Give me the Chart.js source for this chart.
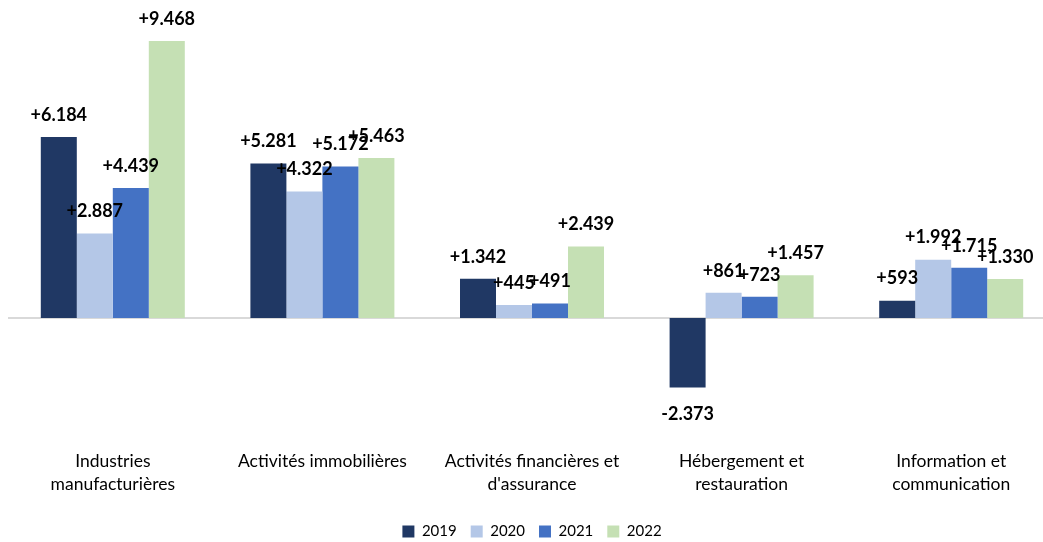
<!DOCTYPE html>
<html>
<head>
<meta charset="utf-8">
<script src="https://cdn.jsdelivr.net/npm/chart.js@4.4.1/dist/chart.umd.min.js"></script>
<style>
  html, body { margin: 0; padding: 0; background: #fff; overflow: hidden; }
  #wrap { width: 1056px; height: 542px; }
</style>
</head>
<body>
<div id="wrap"><canvas id="c"></canvas></div>
<script>
/* Variation par secteur, 2019-2022 */
const categories = [
  ["Industries", "manufacturières"],
  ["Activités immobilières"],
  ["Activités financières et", "d'assurance"],
  ["Hébergement et", "restauration"],
  ["Information et", "communication"]
];
const years = ["2019", "2020", "2021", "2022"];
const v2019 = [6184, 5281, 1342, -2373, 593];
const v2020 = [2887, 4322, 445, 861, 1992];
const v2021 = [4439, 5172, 491, 723, 1715];
const v2022 = [9468, 5463, 2439, 1457, 1330];
const colors = ["#203864", "#B4C7E7", "#4472C4", "#C5E0B4"];

const FONT = "Lato, 'Open Sans', sans-serif";

function fmt(v) {
  const s = Math.abs(v).toString().replace(/\B(?=(\d{3})+(?!\d))/g, ".");
  return (v < 0 ? "-" : "+") + s;
}

// zero line across the plot
const zeroLine = {
  id: "zeroLine",
  beforeDatasetsDraw(chart) {
    const y = chart.scales.y.getPixelForValue(0);
    const a = chart.chartArea;
    const ctx = chart.ctx;
    ctx.save();
    ctx.strokeStyle = "#d9d9d9";
    ctx.lineWidth = 2;
    ctx.beginPath();
    ctx.moveTo(a.left, y);
    ctx.lineTo(a.right, y);
    ctx.stroke();
    ctx.restore();
  }
};

// value labels above / below bars
const valueLabels = {
  id: "valueLabels",
  afterDatasetsDraw(chart) {
    const ctx = chart.ctx;
    ctx.save();
    ctx.font = "bold 18px " + FONT;
    ctx.fillStyle = "#000";
    ctx.textAlign = "center";
    ctx.textBaseline = "middle";
    chart.data.datasets.forEach((ds, i) => {
      chart.getDatasetMeta(i).data.forEach((bar, j) => {
        const v = ds.data[j];
        const y = v < 0 ? bar.y + 27 : bar.y - 22;
        ctx.fillText(fmt(v), bar.x, y);
      });
    });
    ctx.restore();
  }
};

new Chart(document.getElementById("c"), {
  type: "bar",
  data: {
    labels: categories,
    datasets: [v2019, v2020, v2021, v2022].map((d, i) => ({
      label: years[i],
      data: d,
      backgroundColor: colors[i],
      categoryPercentage: 0.687,
      barPercentage: 1
    }))
  },
  options: {
    responsive: true,
    maintainAspectRatio: false,
    animation: false,
    layout: { padding: { left: 8, right: 0, top: 0, bottom: -7 } },
    plugins: {
      tooltip: { enabled: false },
      legend: {
        position: "bottom",
        labels: {
          boxWidth: 12, boxHeight: 12, padding: 14,
          color: "#000",
          font: { family: FONT, size: 15 }
        }
      }
    },
    scales: {
      x: {
        grid: { display: false },
        border: { display: false },
        ticks: {
          color: "#000",
          font: { family: FONT, size: 17.5, lineHeight: 1.3 },
          maxRotation: 0, autoSkip: false, padding: 9
        },
        afterFit(s) { s.height = 77; }
      },
      y: {
        display: false,
        min: -3930,
        max: 10865
      }
    }
  },
  plugins: [zeroLine, valueLabels]
});
</script>
</body>
</html>
